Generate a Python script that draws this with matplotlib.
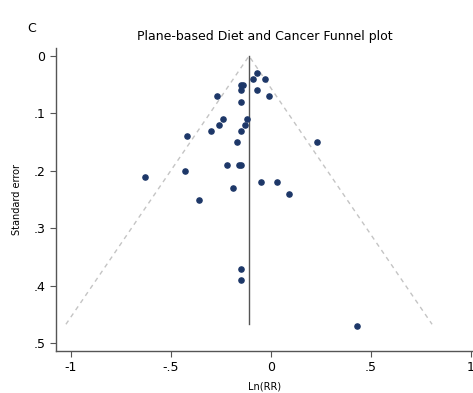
import numpy as np
import matplotlib
matplotlib.use("Agg")
import matplotlib.pyplot as plt

# study estimates: log relative risk and its standard error
ln_rr = [-0.07, -0.09, -0.03, -0.15, -0.14, -0.15, -0.07, -0.27, -0.01, -0.15,
         -0.12, -0.24, -0.26, -0.13, -0.30, -0.15, -0.42, -0.17, 0.23, -0.22,
         -0.16, -0.15, -0.43, -0.63, -0.05, 0.03, -0.19, 0.09, -0.36, -0.15,
         -0.15, 0.43]
se = [0.03, 0.04, 0.04, 0.05, 0.05, 0.06, 0.06, 0.07, 0.07, 0.08,
      0.11, 0.11, 0.12, 0.12, 0.13, 0.13, 0.14, 0.15, 0.15, 0.19,
      0.19, 0.19, 0.20, 0.21, 0.22, 0.22, 0.23, 0.24, 0.25, 0.37,
      0.39, 0.47]

pooled = -0.11
se_max = 0.467

xticks = [-1, -0.5, 0, 0.5, 1]
xticklabels = ["-1", "-.5", "0", ".5", "1"]
yticks = [0, 0.1, 0.2, 0.3, 0.4, 0.5]
yticklabels = ["0", ".1", ".2", ".3", ".4", ".5"]

fig = plt.figure(figsize=(4.73, 3.93), dpi=100)
ax = fig.add_axes([0.1184, 0.1076, 0.8816, 0.7704])

# pseudo 95% confidence limits
ax.plot([pooled - 1.96 * se_max, pooled, pooled + 1.96 * se_max], [se_max, 0, se_max],
        color="#c4c4c4", lw=1.0, ls=(0, (3.2, 3)))
ax.plot([pooled, pooled], [0, se_max], color="#555555", lw=1.0)
ax.scatter(ln_rr, se, s=14, color="#1d3768", zorder=3)

ax.set_xlim(-1.075, 1.01)
ax.set_ylim(0.513, -0.014)
ax.set_xticks(xticks)
ax.set_xticklabels(xticklabels)
ax.set_yticks(yticks)
ax.set_yticklabels(yticklabels)
ax.tick_params(labelsize=9, color="#555555", length=4, width=0.8)
for side in ["top", "right"]:
    ax.spines[side].set_visible(False)
for side in ["left", "bottom"]:
    ax.spines[side].set_color("#555555")
    ax.spines[side].set_linewidth(1.0)

ax.set_xlabel("Ln(RR)", fontsize=7, labelpad=5)
ax.set_ylabel("Standard error", fontsize=7, labelpad=8)
ax.set_title("Plane-based Diet and Cancer Funnel plot", fontsize=9, pad=6)
fig.text(0.057, 0.918, "C", fontsize=9)

plt.savefig("out.png", dpi=100)
